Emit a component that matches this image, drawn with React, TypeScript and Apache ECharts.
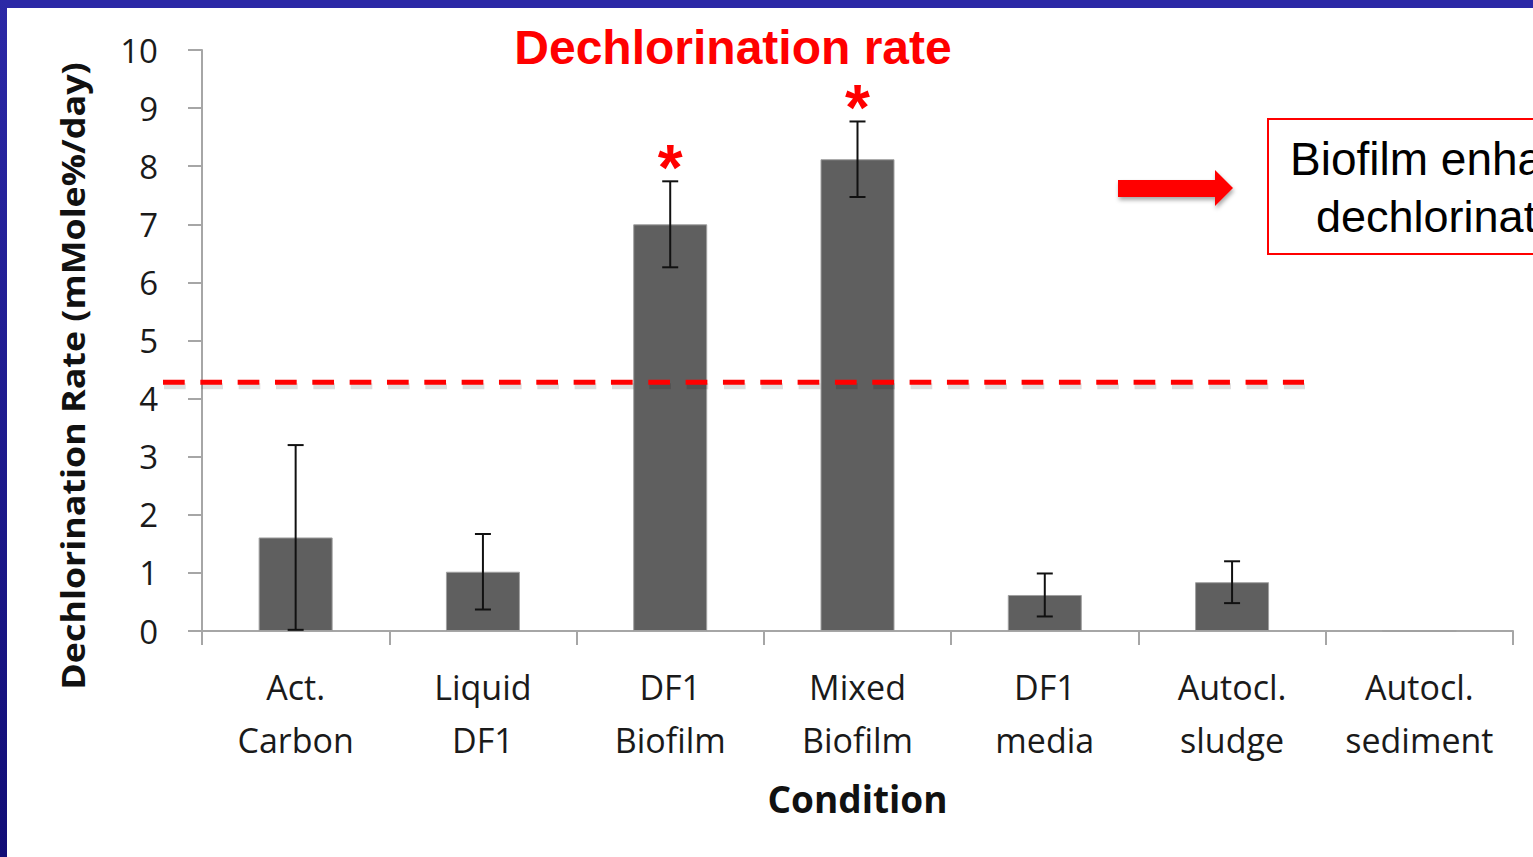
import React, { useEffect, useRef } from "react";
import * as echarts from "echarts";

const categories = [
  "Act.\nCarbon",
  "Liquid\nDF1",
  "DF1\nBiofilm",
  "Mixed\nBiofilm",
  "DF1\nmedia",
  "Autocl.\nsludge",
  "Autocl.\nsediment",
];
const rates = [1.61, 1.02, 7.0, 8.12, 0.62, 0.84, 0];
const errors = [1.59, 0.65, 0.74, 0.65, 0.37, 0.36, 0];
const significant = [false, false, true, true, false, false, false];
const threshold = [4.28];
const yMin = 0;
const yMax = 10;
const yInterval = 1;

const titleText = "Dechlorination rate";
const yTitle = "Dechlorination Rate (mMole%/day)";
const xTitle = "Condition";
const noteLines = ["Biofilm enhanced", "dechlorination"];

export default function App() {
  const ref = useRef<HTMLDivElement>(null);

  useEffect(() => {
    if (!ref.current) return;
    const chart = echarts.init(ref.current, undefined, { renderer: "svg" });

    const errData = rates.map((v, i) => [i, v, errors[i], significant[i] ? 1 : 0]);

    const staticGraphics: any[] = [
      {
        type: "rect",
        shape: { x: 0, y: 0, width: 1533, height: 8 },
        style: { fill: "#2b28a6" },
        z: 100,
      },
      {
        type: "rect",
        shape: { x: 0, y: 0, width: 7, height: 857 },
        style: {
          fill: new echarts.graphic.LinearGradient(0, 0, 0, 1, [
            { offset: 0, color: "#2b28a6" },
            { offset: 1, color: "#110d76" },
          ]),
        },
        z: 100,
      },
      {
        type: "text",
        x: 733,
        y: 47,
        style: {
          text: titleText,
          fill: "#ff0000",
          font: 'bold 48px "Liberation Sans", Arial, sans-serif',
          align: "center",
          verticalAlign: "middle",
        },
      },
      {
        type: "text",
        x: 73,
        y: 376,
        rotation: Math.PI / 2,
        scaleX: 1.12,
        style: {
          text: yTitle,
          fill: "#111",
          font: 'bold 32px "Open Sans", sans-serif',
          align: "center",
          verticalAlign: "middle",
        },
      },
      {
        type: "polygon",
        shape: {
          points: [
            [1118, 180],
            [1215, 180],
            [1215, 170],
            [1233, 188],
            [1215, 206],
            [1215, 197],
            [1118, 197],
          ],
        },
        style: {
          fill: "#ff0000",
          shadowBlur: 4,
          shadowColor: "rgba(0,0,0,0.35)",
          shadowOffsetX: 1,
          shadowOffsetY: 3,
        },
      },
      {
        type: "rect",
        shape: { x: 1268, y: 119, width: 400, height: 135 },
        style: { fill: "#fff", stroke: "#ff0000", lineWidth: 2 },
      },
      {
        type: "text",
        x: 1290,
        y: 159,
        style: {
          text: noteLines[0],
          fill: "#000",
          font: '46px "Liberation Sans", Arial, sans-serif',
          align: "left",
          verticalAlign: "middle",
        },
      },
      {
        type: "text",
        x: 1316,
        y: 216,
        style: {
          text: noteLines[1],
          fill: "#000",
          font: '45px "Liberation Sans", Arial, sans-serif',
          align: "left",
          verticalAlign: "middle",
        },
      },
    ];

    chart.setOption({
      animation: false,
      backgroundColor: "#ffffff",
      grid: { left: 202, right: 20, top: 50, bottom: 226, containLabel: false },
      xAxis: {
        type: "category",
        data: categories,
        name: xTitle,
        nameLocation: "middle",
        nameGap: 149,
        nameTextStyle: {
          fontFamily: "Open Sans",
          fontWeight: "bold",
          fontSize: 37,
          color: "#111",
        },
        axisLine: { lineStyle: { color: "#a6a6a6", width: 2 } },
        axisTick: { show: true, alignWithLabel: false, length: 14, lineStyle: { color: "#a6a6a6", width: 2 } },
        axisLabel: {
          interval: 0,
          margin: 29,
          fontFamily: "Open Sans",
          fontSize: 34,
          lineHeight: 53,
          color: "#1a1a1a",
        },
        splitLine: { show: false },
      },
      yAxis: {
        type: "value",
        min: yMin,
        max: yMax,
        interval: yInterval,
        axisLine: { show: true, lineStyle: { color: "#a6a6a6", width: 2 } },
        axisTick: { show: true, length: 14, lineStyle: { color: "#a6a6a6", width: 2 } },
        axisLabel: {
          margin: 44,
          fontFamily: "Open Sans",
          fontSize: 33,
          color: "#1a1a1a",
        },
        splitLine: { show: false },
      },
      series: [
        {
          type: "bar",
          data: rates,
          barWidth: 74,
          itemStyle: { color: "#5f5f5f", borderColor: "#a0a0a0", borderWidth: 1 },
        },
        {
          type: "custom",
          data: errData,
          z: 5,
          renderItem: (params: any, api: any) => {
            const i = api.value(0);
            const v = api.value(1);
            const e = api.value(2);
            const sig = api.value(3);
            if (!e) return null;
            const top = api.coord([i, v + e]);
            const bot = api.coord([i, v - e]);
            const cap = 8;
            const st = { stroke: "#111", lineWidth: 2 };
            const children: any[] = [
              { type: "line", shape: { x1: top[0], y1: top[1], x2: bot[0], y2: bot[1] }, style: st },
              { type: "line", shape: { x1: top[0] - cap, y1: top[1], x2: top[0] + cap, y2: top[1] }, style: st },
              { type: "line", shape: { x1: bot[0] - cap, y1: bot[1], x2: bot[0] + cap, y2: bot[1] }, style: st },
            ];
            if (sig) {
              children.push({
                type: "text",
                x: top[0],
                y: top[1] - 13,
                style: {
                  text: "*",
                  fill: "#ff0000",
                  font: 'bold 64px "Liberation Sans", Arial, sans-serif',
                  align: "center",
                  verticalAlign: "middle",
                },
              });
            }
            return { type: "group", children };
          },
        },
        {
          type: "custom",
          data: threshold.map((t) => [0, t]),
          z: 10,
          clip: false,
          renderItem: (params: any, api: any) => {
            const y = api.coord([0, api.value(1)])[1];
            const dash = [21.7, 15.63];
            return {
              type: "group",
              children: [
                {
                  type: "line",
                  shape: { x1: 164, y1: y + 4, x2: 1305, y2: y + 4 },
                  style: { stroke: "rgba(0,0,0,0.13)", lineWidth: 6, lineDash: dash },
                },
                {
                  type: "line",
                  shape: { x1: 163, y1: y, x2: 1304, y2: y },
                  style: { stroke: "#ff0000", lineWidth: 5, lineDash: dash },
                },
              ],
            };
          },
        },
      ],
      graphic: staticGraphics,
    });

    return () => chart.dispose();
  }, []);

  return (
    <div
      ref={ref}
      style={{ position: "fixed", left: 0, top: 0, width: 1533, height: 857, background: "#fff" }}
    />
  );
}
